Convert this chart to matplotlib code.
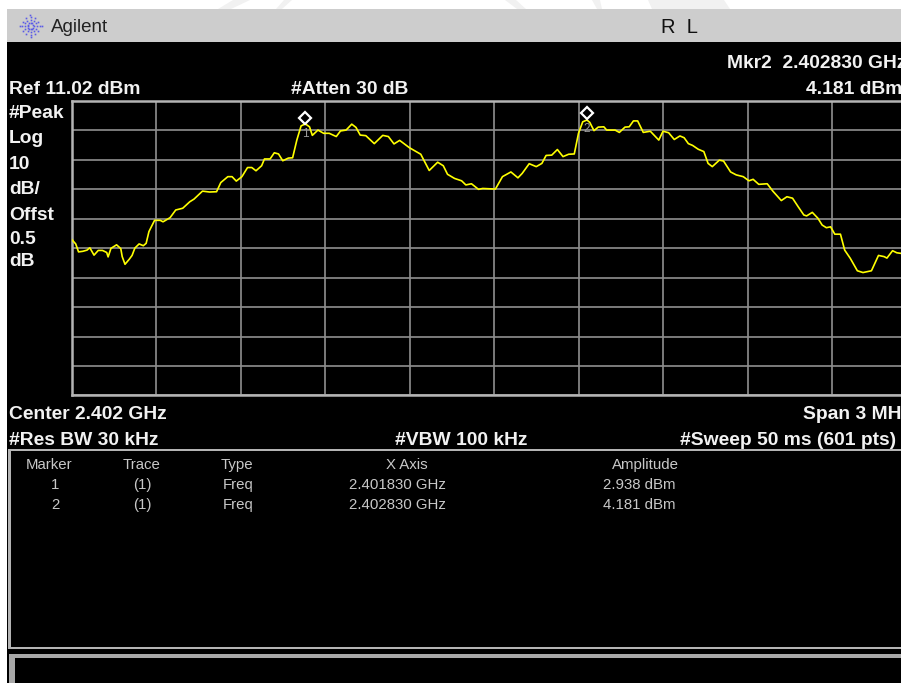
import matplotlib
matplotlib.use("Agg")
import matplotlib.pyplot as plt
from matplotlib.patches import Rectangle, Polygon
import numpy as np

W, H = 901, 683

# sweep point (0-600) and level in dBm
sweep_pt = [0, 3, 5, 8, 11, 13, 16, 19, 22, 25, 26, 28, 32, 35, 36, 38, 41, 43, 45, 48,
            51, 53, 55, 59, 63, 65, 70, 74, 79, 84, 87, 93, 98, 103, 106, 111, 114, 117, 121, 125,
            128, 131, 135, 137, 141, 144, 147, 150, 154, 157, 160, 163, 166, 169, 171, 175, 179, 183, 188, 191,
            195, 199, 202, 205, 209, 215, 221, 225, 229, 233, 240, 244, 248, 254, 260, 264, 267,
            272, 277, 280, 284, 289, 292, 301, 304, 306, 312, 317, 320, 325, 330, 334, 337, 341, 345, 349,
            353, 357, 360, 363, 366, 368, 371, 374, 378, 380, 386, 389, 393, 396, 399, 402, 406, 411, 417, 420,
            424, 428, 432, 435, 438, 441, 445, 449, 452, 455, 460, 463, 468, 472, 477, 481, 484, 488, 494, 498,
            504, 508, 512, 516, 520, 522, 526, 530, 533, 536, 539, 542, 546, 549, 553, 558, 562, 568, 573, 577,
            579, 583, 586, 589]
level_dbm = [-36.0, -37.6, -40.3, -40.1, -39.7, -38.9, -41.4, -39.8, -39.8, -40.5, -42.0, -39.1, -37.9, -39.2, -41.9, -44.5, -42.8, -41.5, -39.0, -37.6,
             -38.2, -37.4, -33.4, -29.6, -29.6, -30.1, -28.7, -26.1, -25.5, -23.3, -22.4, -19.7, -20.0, -19.9, -16.8, -14.8, -14.8, -16.3, -14.8, -11.7,
             -11.7, -12.8, -11.1, -8.8, -8.8, -6.7, -7.1, -9.4, -8.5, -8.4, -2.4, 2.4, 3.1, 2.1, -0.8, 1.0, -0.1, -0.1, -1.2, 0.7,
             1.0, 3.0, 1.9, -0.7, -0.9, -3.6, -0.8, -1.2, -3.7, -2.5, -5.0, -6.1, -7.2, -12.7, -9.9, -11.1, -14.0,
             -15.4, -16.2, -17.6, -17.2, -19.1, -18.8, -19.0, -16.5, -14.8, -13.2, -15.2, -13.7, -10.4, -11.4, -10.3, -7.6, -7.5, -5.6, -8.0,
             -7.2, -7.1, -0.1, 3.8, 4.4, 3.6, 0.8, 2.0, 2.1, 1.0, 1.0, 0.2, 2.0, 2.1, 4.1, 4.1, 0.2, 0.6, -2.4, 0.6,
             0.1, -2.2, -1.0, -1.6, -3.6, -4.2, -5.5, -6.3, -10.3, -11.4, -9.2, -9.5, -13.2, -14.2, -14.8, -16.2, -15.7, -17.4, -17.2, -19.7,
             -22.9, -21.6, -22.1, -25.0, -27.8, -28.1, -26.9, -28.9, -31.2, -32.1, -31.8, -34.3, -34.3, -39.7, -42.5, -46.7, -47.3, -46.7, -41.5, -41.9,
             -42.4, -39.9, -40.6, -40.8]

marker_pt = [166, 366]
marker_dbm = [5.1, 6.7]
marker_num = ["1", "2"]
marker_num_dbm = [-0.3, 1.4]

ref_level = 11.02
db_per_div = 10

side_labels = ["#Peak", "Log", "10", "dB/", "Offst", "0.5", "dB"]
side_base = [118, 143, 169, 194, 220, 244, 266]

table_cols = ["Marker", "Trace", "Type", "X Axis", "Amplitude"]
table_col_x = [49.5, 142, 237, 407, 645]
row_1 = ["1", "(1)", "Freq", "2.401830 GHz", "2.938 dBm"]
row_2 = ["2", "(1)", "Freq", "2.402830 GHz", "4.181 dBm"]
row_x = [55, 142, 238, 397, 639]

GRID = "#8f8f8f"
FRAME = "#b4b4b4"

plt.rcParams["font.family"] = ["Liberation Sans", "DejaVu Sans"]
fig = plt.figure(figsize=(W / 100, H / 100), dpi=100, facecolor="white")


def label(x, y, s, size=13.9, weight="bold", color="#f2f2f2", ha="left"):
    fig.text(x / W, 1 - y / H, s, fontsize=size, fontweight=weight, color=color, ha=ha, va="baseline")


def box(x, y, w, h, color, z=0):
    fig.patches.append(Rectangle((x / W, 1 - (y + h) / H), w / W, h / H, transform=fig.transFigure,
                                 facecolor=color, edgecolor="none", zorder=z))


# faint watermark above the window
for pts in [[(233, 0), (250, 0), (231, 9), (218, 9)], [(284, 0), (292, 0), (282, 9), (276, 9)],
            [(505, 0), (516, 0), (526, 9), (517, 9)], [(592, 0), (600, 0), (602, 9), (597, 9)],
            [(648, 0), (724, 0), (730, 9), (652, 9)]]:
    fig.patches.append(Polygon([(a / W, 1 - b / H) for a, b in pts], transform=fig.transFigure,
                               facecolor="#f1f1f1", edgecolor="none"))

box(7, 9, W - 7, 33, "#cdcdcd")
box(7, 42, W - 7, H - 42, "black")

# marker table frame and the bottom panel
box(8, 449, W - 8, 2, FRAME, 1)
box(8, 449, 2.5, 200, FRAME, 1)
box(8, 647, W - 8, 2, FRAME, 1)
box(11, 654, W - 11, 4, "#a8a8a8", 1)
box(9, 654, 6, H - 654, "#a8a8a8", 1)
box(15, 658, W - 15, H - 658, "black", 2)

ax = fig.add_axes([71.5 / W, 1 - 395.5 / H, 845 / W, 295 / H], facecolor="black")
ax.set_zorder(2.5)
ax.set_xlim(0, 600)
ax.set_ylim(ref_level - 10 * db_per_div, ref_level)
ax.set_xticks(np.arange(0, 601, 60))
ax.set_yticks(ref_level - db_per_div * np.arange(0, 11))
ax.grid(True, color=GRID, lw=1.2)
ax.tick_params(length=0, labelbottom=False, labelleft=False)
ax.set_axisbelow(True)
for s in ax.spines.values():
    s.set_color(FRAME)
    s.set_linewidth(1.8)

ax.plot(sweep_pt, level_dbm, color="#ffff00", lw=1.2, zorder=3)
ax.plot(marker_pt, marker_dbm, ls="none", marker="D", ms=6.2, mfc="black", mec="white", mew=1.6, zorder=4)
for p, d, n in zip(marker_pt, marker_num_dbm, marker_num):
    ax.text(p, d, n, color="#9a9a9a", fontsize=8.5, ha="center", va="center", zorder=4)

# title bar
logo_x, logo_y = 30.5, 26
for ang in np.arange(0, 360, 30):
    r = np.array([3, 6, 9, 11]) if ang % 90 == 0 else np.array([3, 6, 9])
    xs = logo_x + r * np.cos(np.radians(ang))
    ys = logo_y + r * np.sin(np.radians(ang))
    fig.add_artist(plt.Line2D(xs / W, 1 - ys / H, ls="none", marker="s", ms=1.2, color="#5a5ae8", mew=0))
label(51, 32, "Agilent", size=13.5, weight="normal", color="#222222")
label(661, 33, "R  L", size=14.5, weight="normal", color="#111111")

# readouts
label(727, 68, "Mkr2  2.402830 GHz")
label(806, 94, "4.181 dBm")
label(9, 94, "Ref 11.02 dBm")
label(291, 94, "#Atten 30 dB")
for s, y in zip(side_labels, side_base):
    label(9, y, s)
label(9, 419, "Center 2.402 GHz")
label(803, 419, "Span 3 MHz")
label(9, 445, "#Res BW 30 kHz")
label(395, 445, "#VBW 100 kHz")
label(680, 445, "#Sweep 50 ms (601 pts)")

for x, s in zip(table_col_x, table_cols):
    label(x, 469, s, size=10.8, weight="normal", color="#c8c8c8", ha="center")
for x, a, b in zip(row_x, row_1, row_2):
    label(x, 489, a, size=10.8, weight="normal", color="#c8c8c8", ha="center")
    label(x, 509, b, size=10.8, weight="normal", color="#c8c8c8", ha="center")

fig.savefig("out.png", dpi=100, facecolor="white")
